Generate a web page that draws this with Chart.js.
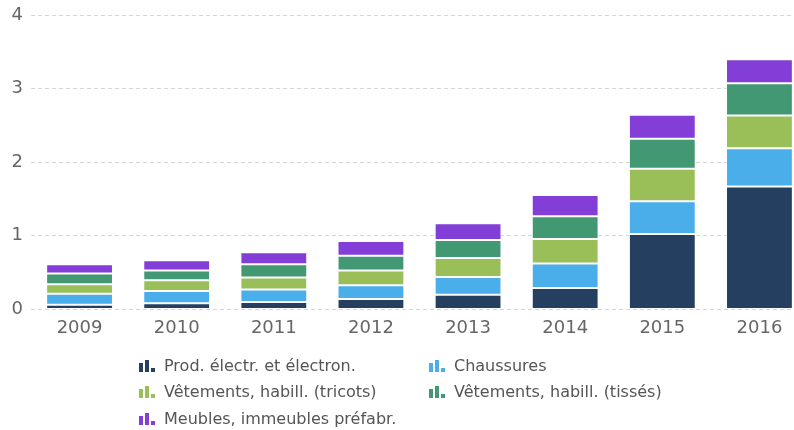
<!DOCTYPE html>
<html>
<head>
<meta charset="utf-8">
<script src="https://cdn.jsdelivr.net/npm/chart.js@4.4.0/dist/chart.umd.min.js"></script>
<style>
  html, body { margin: 0; padding: 0; background: #fff; overflow: hidden; width: 794px; height: 430px; }
  #wrap { position: absolute; left: 0; top: 0; width: 808px; height: 350px; }
  #legend { position: absolute; left: 0; top: 0; width: 794px; height: 430px; pointer-events: none;
    font-family: "DejaVu Sans", sans-serif; font-size: 16px; color: #555; }
  .item { position: absolute; display: flex; align-items: center; white-space: nowrap; height: 20px; }
  .icon { position: relative; width: 18px; height: 13px; margin-right: 7px; }
  .icon span { position: absolute; bottom: 0; width: 4px; }
</style>
</head>
<body>
<div id="wrap"><canvas id="c"></canvas></div>
<div id="legend"></div>
<script>
const categories = ["2009", "2010", "2011", "2012", "2013", "2014", "2015", "2016"];
const seriesNames = [
  "Prod. électr. et électron.",
  "Chaussures",
  "Vêtements, habill. (tricots)",
  "Vêtements, habill. (tissés)",
  "Meubles, immeubles préfabr."
];
const electr  = [0.064, 0.082, 0.100, 0.141, 0.200, 0.291, 1.024, 1.670];
const chauss  = [0.150, 0.168, 0.169, 0.187, 0.241, 0.333, 0.446, 0.518];
const tricots = [0.127, 0.146, 0.164, 0.200, 0.259, 0.332, 0.441, 0.447];
const tisses  = [0.147, 0.132, 0.181, 0.200, 0.242, 0.309, 0.406, 0.437];
const meubles = [0.127, 0.141, 0.164, 0.200, 0.228, 0.291, 0.327, 0.327];
const yTicks = [0, 1, 2, 3, 4];
const colors = ["#243f5f", "#4aaeea", "#9abe58", "#439874", "#823ed6"];

const seriesValues = [electr, chauss, tricots, tisses, meubles];
const FONT = "'DejaVu Sans', sans-serif";

const datasets = seriesValues.map((vals, i) => ({
  label: seriesNames[i],
  data: vals,
  backgroundColor: colors[i],
  borderColor: "rgba(255,255,255,0.65)",
  borderWidth: 1,
  borderSkipped: false,
  categoryPercentage: 1,
  barPercentage: 0.688
}));

new Chart(document.getElementById("c"), {
  type: "bar",
  data: { labels: categories, datasets },
  options: {
    responsive: true,
    maintainAspectRatio: false,
    animation: false,
    layout: { padding: { left: 0, top: 15, right: 0, bottom: 3 } },
    plugins: { legend: { display: false }, tooltip: { enabled: false } },
    scales: {
      x: {
        stacked: true,
        grid: { display: false, drawTicks: false },
        border: { display: false },
        ticks: { color: "#666", font: { family: FONT, size: 18 }, padding: 8 }
      },
      y: {
        stacked: true,
        min: yTicks[0],
        max: yTicks[yTicks.length - 1],
        afterBuildTicks: (s) => { s.ticks = yTicks.map(v => ({ value: v })); },
        afterFit: (s) => { s.width = 31; s.paddingTop = 0; s.paddingBottom = 0; },
        grid: { color: "#d6d6d6", lineWidth: 1, drawTicks: false },
        border: { display: false, dash: [4, 3] },
        ticks: { color: "#666", font: { family: FONT, size: 18 }, padding: 8 }
      }
    }
  }
});

// HTML legend built from the series arrays
const legend = document.getElementById("legend");
const positions = [[139, 355], [429, 355], [139, 381], [429, 381], [139, 408]];
seriesNames.forEach((name, i) => {
  const it = document.createElement("div");
  it.className = "item";
  it.style.left = positions[i][0] + "px";
  it.style.top = positions[i][1] + "px";
  const icon = document.createElement("div");
  icon.className = "icon";
  [[0, 9], [6, 12], [12, 4]].forEach(([l, h]) => {
    const s = document.createElement("span");
    s.style.left = l + "px"; s.style.height = h + "px"; s.style.background = colors[i];
    icon.appendChild(s);
  });
  const t = document.createElement("span");
  t.textContent = name;
  it.appendChild(icon); it.appendChild(t);
  legend.appendChild(it);
});
</script>
</body>
</html>
